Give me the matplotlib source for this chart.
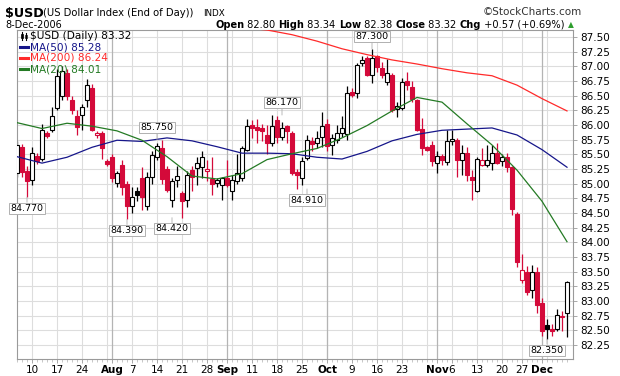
import numpy as np
import pandas as pd
import matplotlib
matplotlib.use("Agg")
import matplotlib.pyplot as plt
from matplotlib.patches import Rectangle

# ---------------- data ----------------
holidays = ["2006-09-04", "2006-11-23"]
dates = pd.bdate_range("2006-07-05", "2006-12-08")
dates = dates[~dates.isin(pd.to_datetime(holidays))]

open_ = [85.19, 85.62, 85.22, 85.06, 85.47, 85.42, 85.86, 85.92, 86.29, 86.50,
         86.89, 86.42, 86.15, 86.17, 86.43, 86.63, 85.83, 85.86, 85.38, 85.46,
         85.01, 85.32, 85.00, 84.62, 84.87, 85.10, 84.62, 85.12, 85.46, 85.60,
         85.25, 84.72, 85.06, 84.84, 84.72, 85.24, 85.27, 85.29, 85.21, 85.08,
         85.01, 84.98, 85.09, 84.87, 85.05, 85.10, 85.58, 86.00, 85.96, 85.95,
         85.83, 85.70, 86.09, 85.80, 85.98, 85.86, 85.20, 85.09, 85.44, 85.72,
         85.70, 85.80, 86.02, 85.66, 85.75, 85.86, 85.85, 86.57, 86.54, 87.06,
         87.14, 86.86, 87.17, 86.97, 86.74, 86.86, 86.27, 86.29, 86.75, 86.65,
         86.42, 85.93, 85.62, 85.66, 85.35, 85.47, 85.37, 85.72, 85.75, 85.41,
         85.52, 85.12, 84.88, 85.32, 85.32, 85.35, 85.52, 85.38, 85.46, 85.29,
         84.48, 83.36, 83.50, 83.19, 83.50, 82.96, 82.59, 82.52, 82.53, 82.72,
         82.80]
high = [85.72, 85.68, 85.30, 85.63, 85.52, 86.02, 85.90, 86.30, 86.95, 87.00,
        86.95, 86.50, 86.25, 86.35, 86.79, 86.70, 85.90, 85.90, 85.42, 85.50,
        85.22, 85.40, 85.05, 84.95, 84.95, 85.28, 85.20, 85.55, 85.70, 85.75,
        85.30, 85.10, 85.30, 84.88, 85.22, 85.30, 85.46, 85.55, 85.40, 85.46,
        85.10, 85.12, 85.40, 85.15, 85.50, 85.65, 86.10, 86.09, 86.10, 86.01,
        86.00, 86.17, 86.15, 86.05, 86.00, 85.90, 85.25, 85.45, 85.83, 85.80,
        85.90, 86.23, 86.10, 85.85, 86.00, 86.15, 86.66, 86.63, 87.06, 87.17,
        87.17, 87.30, 87.20, 87.08, 87.12, 86.89, 86.40, 86.80, 86.91, 86.75,
        86.45, 86.12, 85.65, 85.72, 85.55, 85.50, 85.92, 85.92, 85.78, 85.66,
        85.63, 85.24, 85.45, 85.60, 85.66, 85.66, 85.70, 85.50, 85.52, 85.30,
        84.52, 83.80, 83.59, 83.62, 83.58, 83.05, 82.70, 82.60, 82.87, 82.82,
        83.34]
low = [85.12, 85.12, 84.77, 84.98, 85.33, 85.38, 85.78, 85.88, 86.25, 86.42,
       86.42, 86.18, 85.83, 85.92, 86.30, 85.90, 85.78, 85.42, 85.30, 85.02,
       84.95, 84.80, 84.39, 84.50, 84.70, 84.55, 84.55, 85.00, 85.40, 85.00,
       84.85, 84.60, 84.95, 84.42, 84.60, 84.88, 84.98, 85.10, 85.05, 84.80,
       84.95, 84.72, 84.95, 84.72, 85.00, 85.05, 85.55, 85.78, 85.70, 85.72,
       85.50, 85.65, 85.70, 85.75, 85.70, 85.15, 84.91, 84.98, 85.40, 85.55,
       85.60, 85.62, 85.55, 85.49, 85.70, 85.80, 85.75, 86.48, 86.46, 87.00,
       86.83, 86.71, 86.90, 86.80, 86.69, 86.23, 86.13, 86.26, 86.60, 86.40,
       85.90, 85.49, 85.55, 85.30, 85.18, 85.32, 85.32, 85.66, 85.12, 85.15,
       85.05, 84.72, 84.86, 85.30, 85.28, 85.24, 85.33, 85.30, 85.20, 84.47,
       83.58, 83.30, 83.10, 83.05, 82.80, 82.40, 82.35, 82.41, 82.48, 82.48,
       82.38]
close = [85.66, 85.20, 85.04, 85.52, 85.38, 85.92, 85.82, 86.16, 86.83, 86.92,
         86.49, 86.26, 85.97, 86.31, 86.69, 85.92, 85.87, 85.60, 85.33, 85.10,
         85.18, 84.95, 84.62, 84.78, 84.80, 84.77, 85.12, 85.49, 85.64, 85.08,
         84.90, 85.05, 85.13, 84.70, 85.15, 85.12, 85.35, 85.45, 85.25, 84.99,
         85.07, 85.10, 84.98, 85.07, 85.18, 85.60, 85.98, 85.95, 85.92, 85.90,
         85.69, 85.98, 85.79, 85.95, 85.90, 85.18, 85.15, 85.39, 85.75, 85.68,
         85.78, 85.98, 85.64, 85.78, 85.86, 85.95, 86.54, 86.52, 87.03, 87.10,
         86.86, 87.14, 86.99, 86.86, 86.89, 86.26, 86.33, 86.74, 86.68, 86.45,
         85.92, 85.60, 85.58, 85.38, 85.47, 85.40, 85.72, 85.76, 85.40, 85.52,
         85.15, 85.06, 85.42, 85.40, 85.41, 85.52, 85.36, 85.46, 85.28, 84.56,
         83.66, 83.53, 83.15, 83.50, 82.93, 82.48, 82.53, 82.48, 82.76, 82.75,
         83.32]

# moving averages every 5th session
ma_dates = dates[::5]
ma20 = [86.04, 85.94, 86.03, 85.98, 85.90, 85.74, 85.46, 85.13, 85.08, 85.17,
        85.41, 85.51, 85.60, 85.78, 85.99, 86.24, 86.47, 86.39, 86.02, 85.66,
        85.23, 84.70, 84.01]
ma50 = [85.46, 85.35, 85.45, 85.62, 85.74, 85.72, 85.78, 85.73, 85.63, 85.52,
        85.52, 85.51, 85.45, 85.42, 85.55, 85.73, 85.84, 85.91, 85.93, 85.95,
        85.83, 85.58, 85.28]
ma200_dates = dates[40::5]
ma200 = [87.70, 87.66, 87.62, 87.54, 87.43, 87.30, 87.20, 87.11, 87.04, 86.96,
         86.89, 86.84, 86.68, 86.45, 86.24]

tick_dates = ["2006-07-10", "2006-07-17", "2006-07-24", "2006-08-01", "2006-08-07",
              "2006-08-14", "2006-08-21", "2006-08-28", "2006-09-01", "2006-09-11",
              "2006-09-18", "2006-09-25", "2006-10-02", "2006-10-09", "2006-10-16",
              "2006-10-23", "2006-11-01", "2006-11-06", "2006-11-13", "2006-11-20",
              "2006-11-27", "2006-12-01"]
tick_labels = ["10", "17", "24", "Aug", "7", "14", "21", "28", "Sep", "11", "18", "25",
               "Oct", "9", "16", "23", "Nov", "6", "13", "20", "27", "Dec"]

# labelled extremes: (date, value, above?)
callouts = [("2006-07-07", 84.77, False), ("2006-08-04", 84.39, False),
            ("2006-08-17", 84.42, False), ("2006-08-14", 85.75, True),
            ("2006-09-19", 86.17, True), ("2006-09-26", 84.91, False),
            ("2006-10-13", 87.30, True), ("2006-12-04", 82.35, False)]

# ---------------- figure ----------------
W, H = 620, 376
fig = plt.figure(figsize=(W / 100, H / 100), dpi=100)
fig.patch.set_facecolor("white")

def fx(x):
    return x / W

def fy(y):
    return 1 - y / H

ax = fig.add_axes([fx(17), fy(359), fx(573) - fx(17), fy(30) - fy(359)])
idx = {d: i for i, d in enumerate(dates)}
n = len(dates)

RED = "#d40a3a"
BLACK = "#000000"
GRID = "#dddddd"

ax.set_xlim(0, 111.2)
ax.set_ylim(82.01, 87.62)

# grid
yt = np.arange(82.25, 87.51, 0.25)
for v in yt:
    ax.axhline(v, color=GRID, lw=0.8, zorder=0)
wk = dates.to_series().dt.isocalendar().week.values
for i in range(1, n):
    if wk[i] != wk[i - 1]:
        ax.axvline(i, color=GRID, lw=0.8, zorder=0)
    if dates[i].month != dates[i - 1].month:
        ax.axvline(i, color="#b4b4b4", lw=0.9, zorder=0)

# candles
w = 0.72
for i in range(n):
    o, h, l, c = open_[i], high[i], low[i], close[i]
    pc = close[i - 1] if i > 0 else o
    col = RED if c < pc else BLACK
    top, bot = max(o, c), min(o, c)
    ax.plot([i, i], [l, h], color=col, lw=0.9, zorder=2, solid_capstyle="butt")
    fc = "white" if c > o else col
    ax.add_patch(Rectangle((i - w / 2, bot), w, max(top - bot, 0.012),
                           facecolor=fc, edgecolor=col, lw=0.8, zorder=3))

# moving averages
ax.plot([idx[d] for d in ma_dates], ma50, color="#16168a", lw=0.9, zorder=4)
ax.plot([idx[d] for d in ma200_dates], ma200, color="#ff2a2a", lw=0.9, zorder=4)
ax.plot([idx[d] for d in ma_dates], ma20, color="#247a24", lw=0.9, zorder=4)

# callouts
for d, v, above in callouts:
    k = idx[pd.Timestamp(d)]
    off = 9 if above else -8
    ax.annotate(f"{v:.3f}", xy=(k, v), xytext=(0, off), textcoords="offset points",
                ha="center", va="center", fontsize=6.8, zorder=6,
                bbox=dict(boxstyle="square,pad=0.12", fc="white", ec="#b0b0b0", lw=0.7),
                arrowprops=dict(arrowstyle="-", color="#b0b0b0", lw=0.6,
                                shrinkA=0, shrinkB=0))

# axes styling
for s in ax.spines.values():
    s.set_color("#9a9a9a")
    s.set_linewidth(0.8)
ax.yaxis.tick_right()
ax.set_yticks(yt)
ax.set_yticklabels([f"{v:.2f}" for v in yt], fontsize=7.5)
ax.tick_params(axis="y", length=3, width=0.6, color="#9a9a9a", pad=2)

ax.set_xticks([idx[pd.Timestamp(d)] for d in tick_dates])
ax.set_xticklabels(tick_labels, fontsize=7.5)
for t, lab in zip(ax.get_xticklabels(), tick_labels):
    if not lab.isdigit():
        t.set_fontweight("bold")
ax.set_xticks(np.arange(n), minor=True)
ax.tick_params(axis="x", which="major", length=3, width=0.6, color="#9a9a9a", pad=1.5)
ax.tick_params(axis="x", which="minor", length=2, width=0.5, color="#b0b0b0")

# legend (inside plot, top-left)
leg = [("$USD (Daily) 83.32", "black", None),
       ("MA(50) 85.28", "#16168a", "#16168a"),
       ("MA(200) 86.24", "#ff2a2a", "#ff2a2a"),
       ("MA(20) 84.01", "#247a24", "#247a24")]
for r, (txt, tc, lc) in enumerate(leg):
    yy = 36 + r * 11
    fig.text(fx(30), fy(yy), txt, color=tc, fontsize=7.6, va="center", ha="left", zorder=7)
    if lc:
        fig.add_artist(plt.Line2D([fx(20), fx(28)], [fy(yy), fy(yy)], color=lc, lw=2.2))
    else:
        fig.add_artist(plt.Line2D([fx(22), fx(22)], [fy(yy - 4), fy(yy + 4)], color="black", lw=0.8))
        fig.add_artist(plt.Line2D([fx(26), fx(26)], [fy(yy - 3), fy(yy + 4)], color="black", lw=0.8))
        fig.add_artist(Rectangle((fx(21), fy(yy + 2)), fx(2), fy(yy - 2) - fy(yy + 2),
                                 transform=fig.transFigure, fc="black", ec="black", lw=0.5))
        fig.add_artist(Rectangle((fx(25), fy(yy + 2)), fx(2), fy(yy - 1) - fy(yy + 2),
                                 transform=fig.transFigure, fc="white", ec="black", lw=0.5))

# header
fig.text(fx(5), fy(13), "$USD", fontsize=9.2, fontweight="bold", va="center")
fig.text(fx(43), fy(13), "(US Dollar Index (End of Day))", fontsize=7.2, va="center")
fig.text(fx(203), fy(13.5), "INDX", fontsize=6.3, va="center")
fig.text(fx(582), fy(12), "\u00a9StockCharts.com", fontsize=7.5, va="center", ha="right", color="#333333")
fig.text(fx(5), fy(24.5), "8-Dec-2006", fontsize=7.0, va="center")

parts = [("Open", True), (" 82.80 ", False), ("High", True), (" 83.34 ", False),
         ("Low", True), (" 82.38 ", False), ("Close", True), (" 83.32 ", False),
         ("Chg", True), (" +0.57 (+0.69%)", False)]
fig.canvas.draw()
r = fig.canvas.get_renderer()
x = 215
for txt, b in parts:
    t = fig.text(fx(x), fy(24.5), txt, fontsize=7.1, va="center",
                 fontweight="bold" if b else "normal")
    x += t.get_window_extent(r).width
fig.text(fx(x + 3), fy(24.5), "\u25b2", fontsize=5.5, color="#2e9e2e", va="center")

fig.savefig("out.png", dpi=100, facecolor="white")
